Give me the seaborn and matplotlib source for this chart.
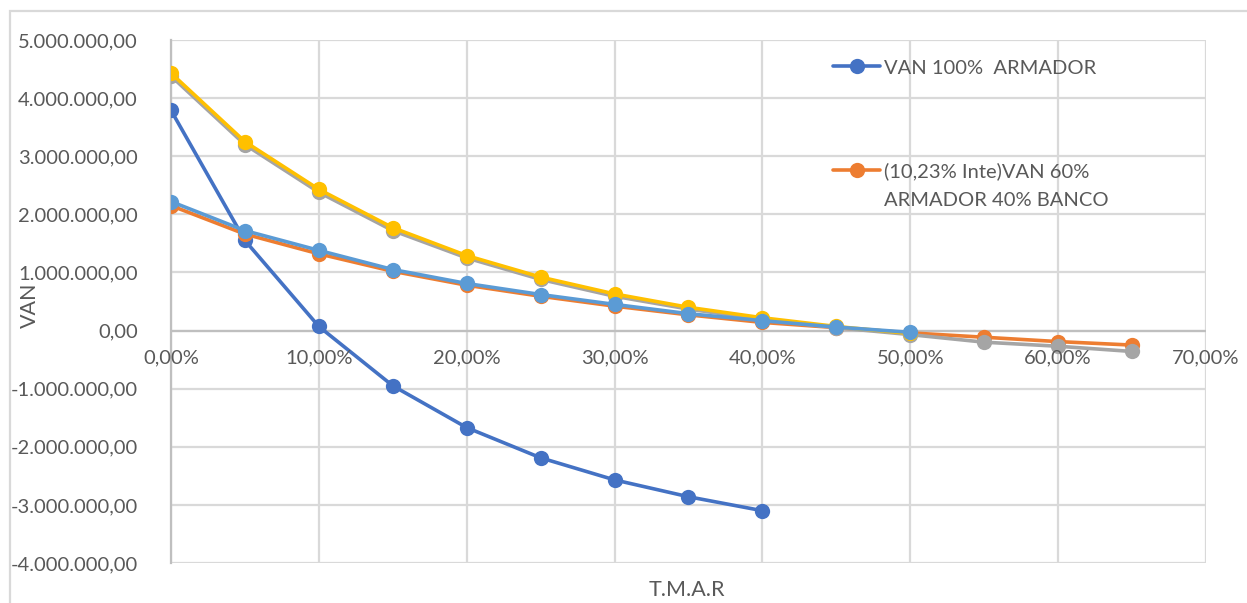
import matplotlib
matplotlib.use("Agg")
import matplotlib.pyplot as plt
from matplotlib.lines import Line2D
from matplotlib.patches import Rectangle
from matplotlib.ticker import FuncFormatter, MultipleLocator
import matplotlib.transforms as mtransforms
import seaborn as sns
import pandas as pd

# Discount rate (T.M.A.R, %) and net present value (VAN) of each financing scenario
tmar_full = [0, 5, 10, 15, 20, 25, 30, 35, 40, 45, 50, 55, 60, 65]

van_armador = [3790000, 1550000, 70000, -950000, -1670000, -2190000, -2570000, -2860000, -3100000]
van_60_40_1023 = [2150000, 1660000, 1320000, 1020000, 780000, 590000, 420000, 270000, 140000,
                  50000, -40000, -115000, -190000, -250000]
van_gris = [4380000, 3200000, 2380000, 1720000, 1250000, 880000, 590000, 370000, 190000,
            50000, -70000, -200000, -270000, -360000]
van_amarillo = [4430000, 3250000, 2430000, 1770000, 1290000, 920000, 630000, 400000, 220000,
                70000, -50000]
van_celeste = [2220000, 1720000, 1380000, 1050000, 810000, 620000, 450000, 290000, 170000,
               60000, -30000]

series_names = ["VAN 100%  ARMADOR",
                "(10,23% Inte)VAN 60%\nARMADOR 40% BANCO",
                "Serie 3", "Serie 4", "Serie 5"]
series_values = [van_armador, van_60_40_1023, van_gris, van_amarillo, van_celeste]
series_colors = ["#4472C4", "#ED7D31", "#A5A5A5", "#FFC000", "#5B9BD5"]

W, H = 1247, 603
sns.set_theme(style="white")
plt.rcParams["font.family"] = ["Lato", "DejaVu Sans"]
TXT = "#595959"
GRID = "#D9D9D9"
FS = 14.5
LW = 2.6
MS = 11

fig = plt.figure(figsize=(W / 100, H / 100), dpi=100)
fig.patch.set_facecolor("white")

# outer chart frame
fig.add_artist(Rectangle((10 / W, -0.1), 1.2, 1 - 11 / H + 0.1, transform=fig.transFigure,
                         fill=False, edgecolor="#D9D9D9", linewidth=1.6, zorder=0))

L, R, T, B = 171, 1206, 40, 563
ax = fig.add_axes([L / W, 1 - B / H, (R - L) / W, (B - T) / H])

for name, vals, col in zip(series_names, series_values, series_colors):
    df = pd.DataFrame({"tmar": tmar_full[:len(vals)], "van": vals})
    sns.lineplot(data=df, x="tmar", y="van", ax=ax, color=col, linewidth=LW,
                 marker="o", markersize=MS, markeredgewidth=0, legend=False, zorder=3)

ax.set_xlim(0, 70)
ax.set_ylim(-4000000, 5000000)
ax.xaxis.set_major_locator(MultipleLocator(10))
ax.yaxis.set_major_locator(MultipleLocator(1000000))


def fmt_money(v, _):
    s = f"{v:,.2f}"
    return s.replace(",", "X").replace(".", ",").replace("X", ".")


def fmt_pct(v, _):
    return f"{v:.2f}%".replace(".", ",")


ax.yaxis.set_major_formatter(FuncFormatter(fmt_money))
ax.xaxis.set_major_formatter(FuncFormatter(fmt_pct))

ax.grid(True, color=GRID, linewidth=1.6)
ax.set_axisbelow(True)
for s in ["top", "right", "bottom"]:
    ax.spines[s].set_visible(False)
ax.spines["left"].set_color("#BFBFBF")
ax.spines["left"].set_linewidth(1.6)
ax.axhline(0, color="#BFBFBF", linewidth=1.6, zorder=1)

ax.tick_params(axis="y", length=0, pad=24, labelsize=FS, labelcolor=TXT)
ax.tick_params(axis="x", length=0, labelbottom=False)
ax.set_xlabel("")
ax.set_ylabel("")

# x tick labels hang just below the zero line (axis crosses at 0)
below_zero = ax.transData + mtransforms.ScaledTranslation(0, -27 / 100, fig.dpi_scale_trans)
for v in ax.get_xticks():
    if 0 <= v <= 70:
        ax.text(v, 0, fmt_pct(v, None), transform=below_zero, ha="center", va="center",
                fontsize=FS, color=TXT, clip_on=False)

fig.text(30 / W, 1 - 305 / H, "VAN", rotation=90, ha="center", va="center", fontsize=15.5, color=TXT)
fig.text(687 / W, 1 - 590 / H, "T.M.A.R", ha="center", va="center", fontsize=15.5, color=TXT)

# legend: first two series only
h1 = Line2D([], [], color=series_colors[0], linewidth=LW, marker="o", markersize=MS, markeredgewidth=0)
h2 = Line2D([], [], color=series_colors[1], linewidth=LW, marker="o", markersize=MS, markeredgewidth=0)
blank = Line2D([], [], linestyle="none", marker=None)
leg_kw = dict(frameon=False, fontsize=FS, handlelength=2.35, handletextpad=0.2,
              borderpad=0, borderaxespad=0, loc="center left", labelcolor=TXT)
leg1 = fig.legend([h1], [series_names[0]], bbox_to_anchor=(833 / W, 1 - 68 / H), **leg_kw)
leg2 = fig.legend([h2, blank], series_names[1].split("\n"), bbox_to_anchor=(833 / W, 1 - 185.5 / H),
                  labelspacing=0.6, **leg_kw)

fig.savefig("out.png", dpi=100, facecolor="white")
